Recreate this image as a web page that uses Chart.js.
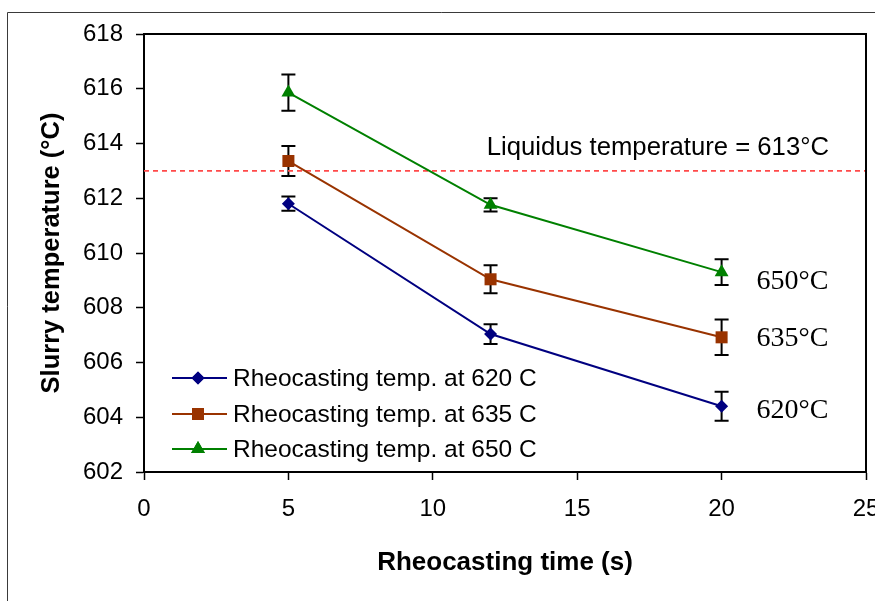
<!DOCTYPE html>
<html>
<head>
<meta charset="utf-8">
<script src="https://cdn.jsdelivr.net/npm/chart.js@4.4.1/dist/chart.umd.min.js"></script>
<style>
  html, body { margin: 0; padding: 0; background: #ffffff; }
  #wrap { width: 875px; height: 601px; position: relative; }
</style>
</head>
<body>
<div id="wrap"><canvas id="c" width="875" height="601"></canvas></div>
<script>
// ---- data ----
const times = [5, 12, 20];
const temp620 = [611.8, 607.04, 604.4];
const temp635 = [613.36, 609.04, 606.92];
const temp650 = [615.86, 611.76, 609.3];
const err620 = [0.26, 0.36, 0.53];
const err635 = [0.55, 0.51, 0.65];
const err650 = [0.66, 0.24, 0.47];
const seriesNames = ['Rheocasting temp. at 620 C', 'Rheocasting temp. at 635 C', 'Rheocasting temp. at 650 C'];
const endLabels = ['620°C', '635°C', '650°C'];
const liquidusTemp = 613;
const liquidusLabel = 'Liquidus temperature = 613°C';
const xTitle = 'Rheocasting time (s)';
const yTitle = 'Slurry temperature (°C)';
const xMin = 0, xMax = 25, xStep = 5;
const yMin = 602, yMax = 618, yStep = 2;

const colors = ['#000080', '#993300', '#008000'];
const styles = ['rectRot', 'rect', 'triangle'];
const radii = [6.5, 8.5, 8];
const temps = [temp620, temp635, temp650];
const errs = [err620, err635, err650];

const toPts = arr => times.map((t, i) => ({ x: t, y: arr[i] }));

const datasets = temps.map((arr, k) => ({
  label: seriesNames[k],
  data: toPts(arr),
  errors: errs[k],
  borderColor: colors[k],
  backgroundColor: colors[k],
  borderWidth: 2,
  pointStyle: styles[k],
  pointRadius: radii[k],
  pointHoverRadius: radii[k],
  pointBorderWidth: 0,
  showLine: true,
  fill: false,
  tension: 0,
  order: 1
}));
datasets.push({
  label: 'liquidus',
  data: [{ x: xMin, y: liquidusTemp }, { x: xMax, y: liquidusTemp }],
  borderColor: '#ff4a4a',
  borderWidth: 1.6,
  borderDash: [5, 4],
  pointRadius: 0,
  showLine: true,
  fill: false,
  order: 2
});

const SANS = '"Liberation Sans", Arial, sans-serif';

const decor = {
  id: 'decor',
  beforeDraw(chart) {
    const ctx = chart.ctx;
    ctx.save();
    ctx.fillStyle = '#ffffff';
    ctx.fillRect(0, 0, chart.width, chart.height);
    ctx.strokeStyle = '#3a3a3a';
    ctx.lineWidth = 1;
    ctx.beginPath();
    ctx.moveTo(7.5, chart.height);
    ctx.lineTo(7.5, 12.5);
    ctx.lineTo(chart.width, 12.5);
    ctx.stroke();
    ctx.restore();
  },
  beforeDatasetsDraw(chart) {
    const ctx = chart.ctx;
    const xs = chart.scales.x, ys = chart.scales.y;
    ctx.save();
    ctx.strokeStyle = '#000000';
    ctx.lineWidth = 2;
    chart.data.datasets.forEach(ds => {
      if (!ds.errors) return;
      ds.data.forEach((p, i) => {
        const e = ds.errors[i];
        const px = xs.getPixelForValue(p.x);
        const top = ys.getPixelForValue(p.y + e);
        const bot = ys.getPixelForValue(p.y - e);
        ctx.beginPath();
        ctx.moveTo(px, top); ctx.lineTo(px, bot);
        ctx.moveTo(px - 7, top); ctx.lineTo(px + 7, top);
        ctx.moveTo(px - 7, bot); ctx.lineTo(px + 7, bot);
        ctx.stroke();
      });
    });
    ctx.restore();
  },
  afterDraw(chart) {
    const ctx = chart.ctx;
    const a = chart.chartArea;
    const xs = chart.scales.x, ys = chart.scales.y;
    ctx.save();
    // plot frame (top and right)
    ctx.strokeStyle = '#000000';
    ctx.lineWidth = 2;
    ctx.beginPath();
    ctx.moveTo(a.left, a.top);
    ctx.lineTo(a.right, a.top);
    ctx.lineTo(a.right, a.bottom);
    ctx.stroke();

    // liquidus label
    ctx.fillStyle = '#000000';
    ctx.font = '25.7px ' + SANS;
    ctx.textAlign = 'right';
    ctx.textBaseline = 'alphabetic';
    ctx.fillText(liquidusLabel, a.right - 37, ys.getPixelForValue(liquidusTemp) - 16);

    // end labels
    ctx.font = '28px "Liberation Serif", "Times New Roman", serif';
    ctx.textAlign = 'left';
    ctx.textBaseline = 'middle';
    const offs = [4, 1, 9];
    temps.forEach((arr, k) => {
      const px = xs.getPixelForValue(times[times.length - 1]) + 35;
      const py = ys.getPixelForValue(arr[arr.length - 1]) + offs[k];
      ctx.fillText(endLabels[k], px, py);
    });

    // legend
    ctx.font = '24.5px ' + SANS;
    ctx.textBaseline = 'middle';
    const lx = a.left + 28, rowY = [378, 414, 449];
    for (let k = 0; k < 3; k++) {
      const ds = chart.data.datasets[k];
      const y = rowY[k];
      ctx.strokeStyle = ds.borderColor;
      ctx.lineWidth = 2;
      ctx.beginPath();
      ctx.moveTo(lx, y); ctx.lineTo(lx + 55, y);
      ctx.stroke();
      ctx.fillStyle = ds.backgroundColor;
      Chart.helpers.drawPoint(ctx, { pointStyle: ds.pointStyle, radius: ds.pointRadius, borderWidth: 0 }, lx + 26, y);
      ctx.fill();
      ctx.fillStyle = '#000000';
      ctx.fillText(ds.label, lx + 61, y + 1);
    }
    ctx.restore();
  }
};

new Chart(document.getElementById('c'), {
  type: 'scatter',
  data: { datasets },
  plugins: [decor],
  options: {
    responsive: false,
    animation: false,
    events: [],
    layout: { padding: { left: 0, top: 34, right: 9, bottom: 0 } },
    plugins: { legend: { display: false }, tooltip: { enabled: false } },
    scales: {
      x: {
        type: 'linear',
        min: xMin, max: xMax,
        ticks: { stepSize: xStep, color: '#000', padding: 15, maxRotation: 0,
                 font: { family: SANS, size: 24 } },
        grid: { drawOnChartArea: false, drawTicks: true, tickLength: 8, color: '#000', tickWidth: 1.5 },
        border: { display: true, color: '#000', width: 2 },
        title: { display: true, text: xTitle, color: '#000',
                 font: { family: SANS, size: 26, weight: 'bold' }, padding: { top: 0, bottom: 23 } },
        afterFit(s) { s.height = 129; s.paddingRight = 0; s.paddingLeft = 0; }
      },
      y: {
        type: 'linear',
        min: yMin, max: yMax,
        ticks: { stepSize: yStep, color: '#000', padding: 13,
                 font: { family: SANS, size: 24 } },
        grid: { drawOnChartArea: false, drawTicks: true, tickLength: 8, color: '#000', tickWidth: 1.5 },
        border: { display: true, color: '#000', width: 2 },
        title: { display: true, text: yTitle, color: '#000',
                 font: { family: SANS, size: 25.5, weight: 'bold' }, padding: { top: 37, bottom: 0 } },
        afterFit(s) { s.width = 144; s.paddingTop = 0; s.paddingBottom = 0; }
      }
    }
  }
});
</script>
</body>
</html>
